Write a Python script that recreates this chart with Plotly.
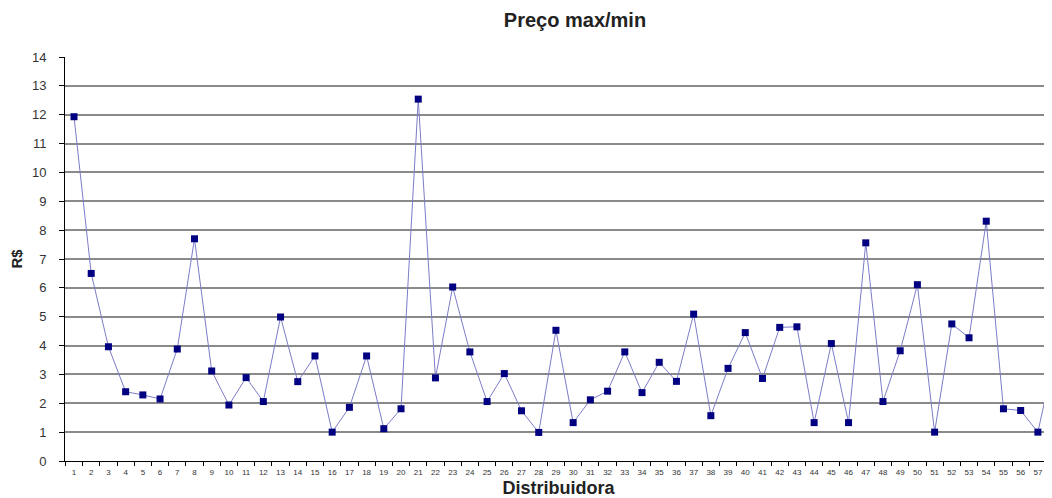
import plotly.graph_objects as go

distribuidoras = [str(i) for i in range(1, 59)]
precos = [11.93, 6.50, 3.96, 2.40, 2.29, 2.15, 3.88, 7.70, 3.12, 1.94,
          2.89, 2.06, 4.99, 2.75, 3.64, 1.00, 1.86, 3.64, 1.12, 1.81,
          12.54, 2.88, 6.03, 3.78, 2.06, 3.03, 1.74, 0.99, 4.53, 1.33,
          2.12, 2.42, 3.78, 2.37, 3.42, 2.76, 5.09, 1.57, 3.21, 4.45,
          2.86, 4.63, 4.65, 1.33, 4.07, 1.33, 7.56, 2.06, 3.82, 6.11,
          1.00, 4.75, 4.27, 8.31, 1.81, 1.75, 1.00, 3.73]
y_ticks = list(range(0, 15))

W, H = 1044, 490  # page adds an 8px body margin

fig = go.Figure()
fig.add_trace(go.Scatter(
    x=distribuidoras, y=precos, mode="lines+markers",
    line=dict(color="#7c7cc8", width=1),
    marker=dict(symbol="square", size=7, color="#000080"),
    showlegend=False, cliponaxis=False,
))

fig.update_layout(
    width=W, height=H,
    margin=dict(l=57, r=0, t=49, b=37, autoexpand=False),
    paper_bgcolor="white", plot_bgcolor="white",
    font=dict(family="Liberation Sans, Arial, sans-serif", color="#333333"),
    title=dict(text="<b>Preço max/min</b>", x=567/W, xref="container",
               xanchor="center", y=1 - 12/H, yref="container", yanchor="middle",
               font=dict(size=20, color="#222222")),
)
fig.update_xaxes(
    type="category", range=[-0.523, 56.82], automargin=False,
    tickson="boundaries", ticks="outside", ticklen=4, tickcolor="black",
    showline=True, linecolor="black", linewidth=1, ticklabelstandoff=3,
    tickangle=0, showgrid=False, tickfont=dict(size=8, color="#333333"),
    title=dict(text="<b>Distribuidora</b>", font=dict(size=18, color="#222222"), standoff=6),
)
fig.update_yaxes(
    range=[0, 14], tickvals=y_ticks, ticks="outside", ticklen=5, tickcolor="black",
    showline=True, linecolor="black", linewidth=1, automargin=False,
    showgrid=True, gridcolor="#8a8a8a", gridwidth=1.5, zeroline=False,
    ticklabelstandoff=10, tickfont=dict(size=13, color="#333333"),
    title=dict(text="<b>R$</b>", font=dict(size=15, color="#222222"), standoff=10),
)

fig.write_html("out.html")
